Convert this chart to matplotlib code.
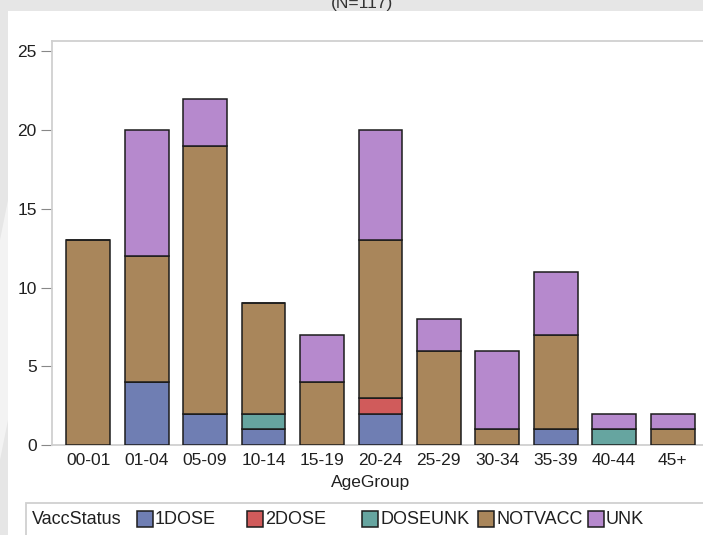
import matplotlib
matplotlib.use("Agg")
import matplotlib.pyplot as plt
import matplotlib.patches as mpatches
import numpy as np

# --- data ---
age_groups = ["00-01", "01-04", "05-09", "10-14", "15-19", "20-24",
              "25-29", "30-34", "35-39", "40-44", "45+"]
dose1    = [0, 4, 2, 1, 0, 2, 0, 0, 1, 0, 0]
dose2    = [0, 0, 0, 0, 0, 1, 0, 0, 0, 0, 0]
doseunk  = [0, 0, 0, 1, 0, 0, 0, 0, 0, 1, 0]
notvacc  = [13, 8, 17, 7, 4, 10, 6, 1, 6, 0, 1]
unk      = [0, 8, 3, 0, 3, 7, 2, 5, 4, 1, 1]
statuses = ["1DOSE", "2DOSE", "DOSEUNK", "NOTVACC", "UNK"]
y_ticks = [0, 5, 10, 15, 20, 25]

# --- style ---
COLORS = ["#6F7EB3", "#D05B5B", "#66A5A0", "#A9865B", "#B689CD"]
EDGE = "#1c1c1c"
TEXT = "#202020"
FRAME = "#d0d0d0"
W, H = 703, 535
AX_FS = 12.5
LEG_FS = 13

plt.rcParams["font.family"] = ["Liberation Sans", "DejaVu Sans"]

fig = plt.figure(figsize=(W / 100, H / 100), dpi=100, facecolor="#e6e6e6")


def px(x, y):
    """pixel (from top-left) -> figure fraction"""
    return x / W, 1 - y / H


# white page panel with a faint background shape on the left
fig.patches.append(mpatches.Rectangle(px(8, 535), 1, 1 - 11 / H, transform=fig.transFigure,
                                      facecolor="white", edgecolor="none", zorder=0))
fig.patches.append(mpatches.Polygon([px(0, 240), px(8, 200), px(8, 420), px(0, 460)],
                                    transform=fig.transFigure, facecolor="#f3f3f3",
                                    edgecolor="none", zorder=0))
fig.text(*px(362, 8), "(N=117)", ha="center", va="baseline",
         fontsize=AX_FS, color="#333333")

ax = fig.add_axes([52 / W, 1 - 445 / H, (W - 52) / W, (445 - 41) / H])
ax.set_zorder(2)
ax.set_facecolor("white")

x = np.arange(len(age_groups))
series = [dose1, dose2, doseunk, notvacc, unk]
bottom = np.zeros(len(age_groups))
for name, vals, col in zip(statuses, series, COLORS):
    vals = np.array(vals, dtype=float)
    ax.bar(x, vals, bottom=bottom, width=0.75, color=col, edgecolor=EDGE,
           linewidth=1.1, label=name, zorder=3)
    bottom += vals

ax.set_xlim(-0.62, len(age_groups) - 0.48)
ax.set_ylim(0, 25.66)
ax.set_yticks(y_ticks)
ax.set_xticks(x)
ax.set_xticklabels(age_groups)
ax.tick_params(axis="x", length=0, pad=6, labelsize=AX_FS, labelcolor=TEXT)
ax.tick_params(axis="y", length=8, width=0.8, color="#888888", pad=3,
               labelsize=AX_FS, labelcolor=TEXT)
ax.set_xlabel("AgeGroup", fontsize=AX_FS, color=TEXT, labelpad=5)
ax.xaxis.set_label_coords(0.489, -0.075)

for side in ["top", "left", "bottom"]:
    ax.spines[side].set_color(FRAME)
    ax.spines[side].set_linewidth(1.3)
ax.spines["right"].set_visible(False)

# legend, drawn by hand so the title sits inline like the SAS legend
fig.patches.append(mpatches.Rectangle(px(26, 536), 1, (536 - 503) / H, transform=fig.transFigure,
                                      facecolor="white", edgecolor=FRAME, linewidth=1.3, zorder=3))
leg_y = 519
fig.text(*px(32, leg_y), "VaccStatus", ha="left", va="center", fontsize=LEG_FS,
         color=TEXT, zorder=4)
patch_x = [137, 247, 362, 478, 588]
for lx, name, col in zip(patch_x, statuses, COLORS):
    fig.patches.append(mpatches.Rectangle(px(lx, leg_y + 8), 16 / W, 16 / H,
                                          transform=fig.transFigure, facecolor=col,
                                          edgecolor=EDGE, linewidth=1.1, zorder=4))
    fig.text(*px(lx + 18, leg_y), name, ha="left", va="center", fontsize=LEG_FS,
             color=TEXT, zorder=4)

fig.savefig("out.png", dpi=100, facecolor=fig.get_facecolor())
